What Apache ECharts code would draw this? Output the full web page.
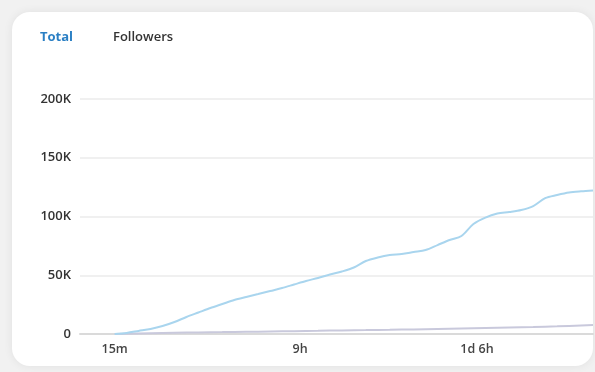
<!DOCTYPE html>
<html>
<head>
<meta charset="utf-8">
<script src="https://cdn.jsdelivr.net/npm/echarts@6/dist/echarts.min.js"></script>
<style>
    html, body { margin: 0; padding: 0; background: #f1f1f1; }
    #card {
        position: absolute; left: 12px; top: 12px; width: 581px; height: 354px;
        background: #fff; border-radius: 18px;
        box-shadow: 0 0 10px rgba(0, 0, 0, 0.07);
    }
    #chart { position: absolute; left: 0; top: 0; width: 595px; height: 372px; }
</style>
</head>
<body>
<div id="card"></div>
<div id="chart"></div>
<script>
    // values in K, one sample per step along the x axis
    const totalK = [0, 0.9, 2.6, 4.3, 6.8, 10.2, 14.5, 18.3, 22.1, 25.5, 28.9, 31.5, 34, 36.6, 39.1, 42.1, 45.1, 47.7, 50.6, 53.2,
        56.6, 62.1, 65.1, 67.2, 68.1, 69.8, 71.5, 75.7, 80, 83.4, 93.6, 99.1, 102.5, 103.8, 105.5, 108.9, 115.7, 118.3, 120.4, 121.4, 122.1];
    const followersK = [0, 0.2, 0.4, 0.6, 0.8, 1.0, 1.2, 1.3, 1.5, 1.6, 1.8, 1.9, 2.0, 2.2, 2.3, 2.4, 2.6, 2.7, 2.9, 3.0,
        3.2, 3.3, 3.5, 3.6, 3.8, 3.9, 4.1, 4.3, 4.5, 4.7, 4.9, 5.1, 5.3, 5.5, 5.7, 5.9, 6.2, 6.5, 6.9, 7.3, 7.7];
    const tickAt = [0, 15.5, 30.3];
    const tickText = ['15m', '9h', '1d 6h'];
    const tabs = ['Total', 'Followers'];

    const toPairs = (arr) => arr.map((v, i) => [i, v * 1000]);

    let chart = echarts.init(document.getElementById('chart'));
    chart.setOption({
        animation: false,
        textStyle: { fontFamily: 'Open Sans' },
        title: [
            { text: tabs[0], left: 35, top: 26, textStyle: { color: '#2a7fc4', fontSize: 13, fontWeight: 700 } },
            { text: tabs[1], left: 108, top: 26, textStyle: { color: '#333', fontSize: 13, fontWeight: 600 } }
        ],
        grid: { left: 80, right: 2, top: 99, bottom: 38 },
        xAxis: {
            type: 'value',
            min: -2.9,
            max: 40,
            axisLine: { show: true, lineStyle: { color: '#dadada', width: 2 } },
            axisTick: { show: false },
            splitLine: { show: false },
            axisLabel: {
                customValues: tickAt,
                formatter: (v) => tickText[tickAt.indexOf(v)] || '',
                color: '#444', fontSize: 12.5, fontWeight: 600, margin: 9
            }
        },
        yAxis: {
            type: 'value',
            min: 0,
            max: 200000,
            interval: 50000,
            axisLine: { show: false },
            axisTick: { show: false },
            splitLine: { lineStyle: { color: '#ebebeb', width: 1.5 } },
            axisLabel: {
                formatter: (v) => v === 0 ? '0' : (v / 1000) + 'K',
                color: '#333', fontSize: 13, fontWeight: 600, margin: 9
            }
        },
        series: [
            {
                name: 'Followers', type: 'line', data: toPairs(followersK), showSymbol: false,
                lineStyle: { color: '#c9c9dc', width: 2 }
            },
            {
                name: 'Total', type: 'line', data: toPairs(totalK), showSymbol: false, smooth: 0.3,
                lineStyle: { color: '#a9d5ee', width: 2 }
            }
        ]
    });
</script>
</body>
</html>
